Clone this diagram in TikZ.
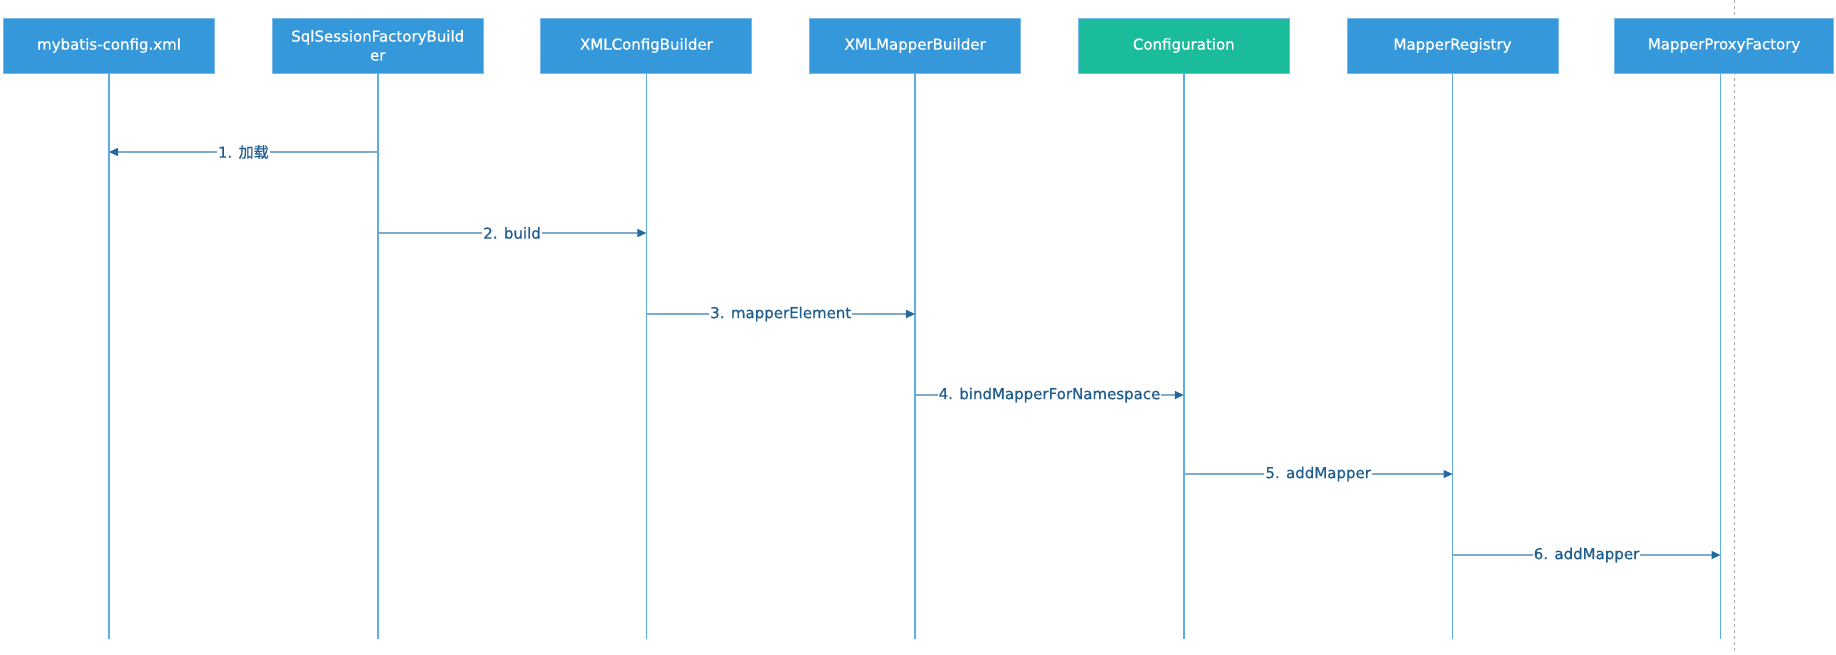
\documentclass[tikz,border=0pt]{standalone}
\usepackage{fontspec}
\setmainfont{DejaVu Sans}
\newfontfamily\medfont[FakeBold=0.7]{DejaVu Sans}
\newfontfamily\cjk[FakeBold=0.7]{Noto Sans CJK SC}
\usetikzlibrary{arrows.meta}
\definecolor{boxblue}{HTML}{3598DB}
\definecolor{boxedge}{HTML}{7DB8EA}
\definecolor{teal}{HTML}{1ABC9C}
\definecolor{lifeblue}{HTML}{5FAEE3}
\definecolor{msgline}{HTML}{80AACC}
\definecolor{tipblue}{HTML}{22699F}
\definecolor{lbltext}{HTML}{1F5E8E}
\definecolor{dashgray}{HTML}{AAAAAA}
\tikzset{
  actor/.style={draw=boxedge, line width=1pt, fill=boxblue, text=white, minimum width=211pt, minimum height=55pt, inner sep=2pt, align=center, font=\medfont\fontsize{15}{19}\selectfont},
  confactor/.style={actor, fill=teal},
  lifeline/.style={draw=lifeblue, line width=1.6pt},
  msg/.style={draw=msgline, line width=1.4pt, -{Triangle[length=9pt,width=8pt,color=tipblue]}},
  lbl/.style={fill=white, text=lbltext, inner sep=1pt, font=\medfont\fontsize{15}{18}\selectfont}
}
\begin{document}
\begin{tikzpicture}[x=1pt,y=-1pt]
\useasboundingbox (0,0) rectangle (1836,654);
\fill[white] (0,0) rectangle (1836,654);
\draw[dashgray, line width=1pt, dashed] (1734,0) coordinate (d1) -- (1734,654) coordinate (d2);
\node[actor] (b1) at (109,45.5) {mybatis-config.xml};
\node[actor] (b2) at (377.7,45.5) {SqlSessionFactoryBuild\\er};
\node[actor] (b3) at (646.4,45.5) {XMLConfigBuilder};
\node[actor] (b4) at (915.1,45.5) {XMLMapperBuilder};
\node[confactor] (b5) at (1183.8,45.5) {Configuration};
\node[actor] (b6) at (1452.5,45.5) {MapperRegistry};
\node[actor, minimum width=219pt] (b7) at (1724,45.5) {MapperProxyFactory};
\foreach \i/\cx in {1/109,2/377.7,3/646.4,4/915.1,5/1183.8,6/1452.5,7/1720.5} {
  \coordinate (e\i) at (\cx,639);
  \coordinate (t\i) at (\cx,73);
  \draw[lifeline] (t\i) -- (e\i);
}
\coordinate (m1s) at (377.7,152); \coordinate (m1e) at (109,152);
\coordinate (m2s) at (377.7,233); \coordinate (m2e) at (646.4,233);
\coordinate (m3s) at (646.4,314); \coordinate (m3e) at (915.1,314);
\coordinate (m4s) at (915.1,395); \coordinate (m4e) at (1183.8,395);
\coordinate (m5s) at (1183.8,474); \coordinate (m5e) at (1452.5,474);
\coordinate (m6s) at (1452.5,555); \coordinate (m6e) at (1720.5,555);
\draw[msg] (m1s) -- node[lbl] {1. {\cjk 加载}} (m1e);
\draw[msg] (m2s) -- node[lbl] {2. build} (m2e);
\draw[msg] (m3s) -- node[lbl] {3. mapperElement} (m3e);
\draw[msg] (m4s) -- node[lbl] {4. bindMapperForNamespace} (m4e);
\draw[msg] (m5s) -- node[lbl] {5. addMapper} (m5e);
\draw[msg] (m6s) -- node[lbl] {6. addMapper} (m6e);
\end{tikzpicture}
\end{document}
